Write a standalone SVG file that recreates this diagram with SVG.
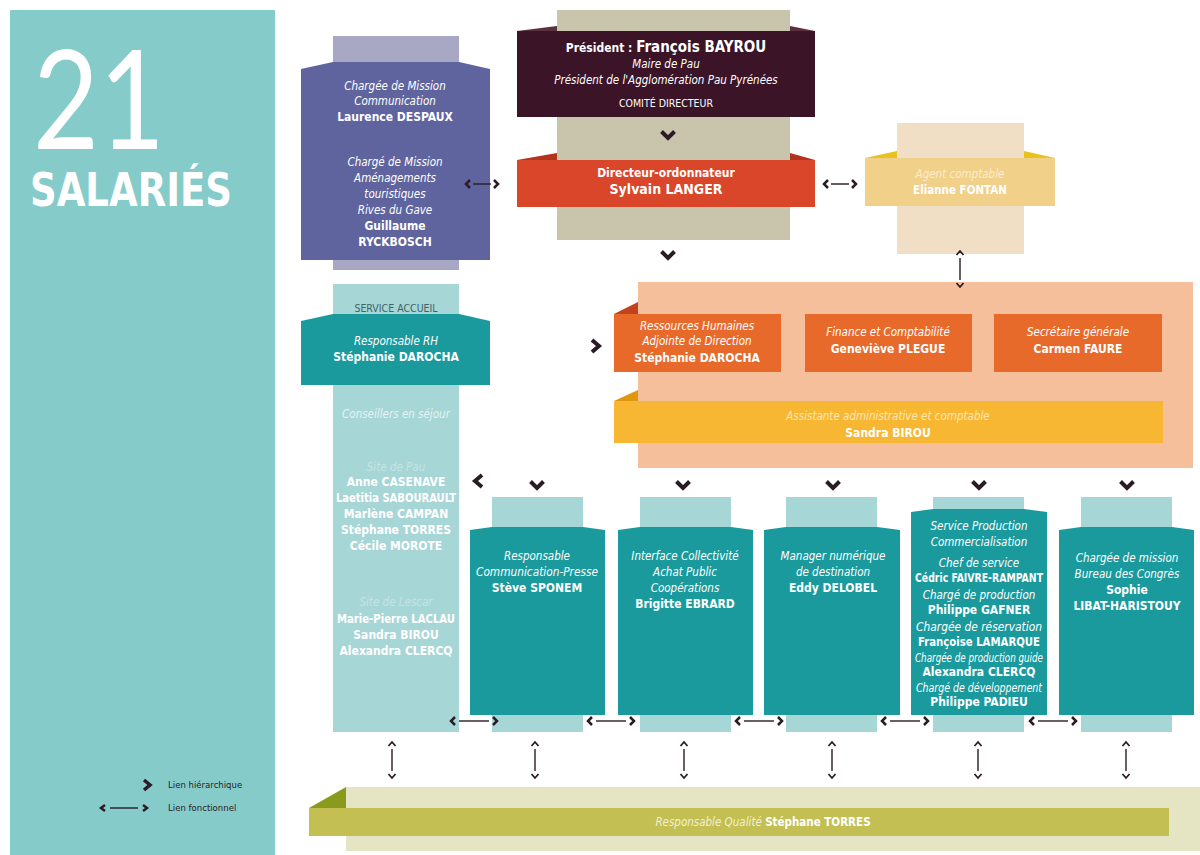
<svg xmlns="http://www.w3.org/2000/svg" width="1200" height="855" viewBox="0 0 1200 855">
<style>
text{font-family:'DejaVu Sans Condensed','Liberation Sans Narrow','Liberation Sans',sans-serif;fill:#fff;text-anchor:middle}
.i{font-style:italic;font-size:11.5px}
.b{font-weight:bold;font-size:12px}
.s{font-size:10.5px}
.chev{fill:none;stroke:#2b1b24;stroke-width:4;stroke-linecap:butt;stroke-linejoin:miter}
.hc{fill:none;stroke:#2b1b24;stroke-width:2.5}
.hl{fill:none;stroke:#2b1b24;stroke-width:1.4}
.vc{fill:none;stroke:#2b1b24;stroke-width:1.8}
</style>
<defs>
<path id="cd" class="chev" d="M-6.5,-4.5 L0,2 L6.5,-4.5"/>
<g id="va"><path class="vc" d="M-3.5,-14 L0,-18 L3.5,-14 M-3.5,14 L0,18 L3.5,14"/><path class="hl" d="M0,-11 V11"/></g>
<g id="ha"><path class="hc" d="M-19,-4 L-23,0 L-19,4 M19,-4 L23,0 L19,4"/><path class="hl" d="M-15,0 H15"/></g>
<g id="has"><path class="hc" d="M-12,-4 L-16,0 L-12,4 M12,-4 L16,0 L12,4"/><path class="hl" d="M-9,0 H9"/></g>
</defs>
<rect width="1200" height="855" fill="#fff"/>

<g id="panel">
<rect x="10" y="10" width="265" height="845" fill="#85cbc9"/>
<text x="99" y="149" textLength="132" lengthAdjust="spacingAndGlyphs" style="font-family:Lato,'Open Sans','Liberation Sans',sans-serif;font-size:138px;font-weight:400">21</text>
<text x="131" y="206" textLength="202" lengthAdjust="spacingAndGlyphs" style="font-size:47px;font-weight:600">SALARIÉS</text>
</g>

<g id="legend">
<path class="chev" style="stroke-width:3.5" d="M144,780 L150,785 L144,790"/>
<text x="168" y="788" style="fill:#2b1b24;font-size:9.5px;text-anchor:start">Lien hiérarchique</text>
<path class="hc" d="M105,805 L101,808 L105,811 M143,805 L147,808 L143,811"/>
<path class="hl" d="M110,808 H138"/>
<text x="168" y="811" style="fill:#2b1b24;font-size:9.5px;text-anchor:start">Lien fonctionnel</text>
</g>

<g id="president">
<rect x="557" y="10" width="233" height="230" fill="#c9c5ad"/>
<rect x="517" y="31" width="298" height="86" fill="#3b1428"/>
<path d="M517,31 L557,26 L557,31 Z M815,31 L790,26 L790,31 Z" fill="#5a3040"/>
<text x="666" y="52" class="b"><tspan style="font-size:12px">Président : </tspan><tspan style="font-size:15px">François BAYROU</tspan></text>
<text x="666" y="68" class="i">Maire de Pau</text>
<text x="666" y="84" class="i">Président de l'Agglomération Pau Pyrénées</text>
<text x="666" y="107" class="s">COMITÉ DIRECTEUR</text>
</g>

<g id="directeur">
<rect x="517" y="160" width="298" height="47" fill="#d9462a"/>
<path d="M517,160 L557,153 L557,160 Z M815,160 L790,153 L790,160 Z" fill="#b3341e"/>
<text x="666" y="177" class="b">Directeur-ordonnateur</text>
<text x="666" y="194" class="b" style="font-size:14px">Sylvain LANGER</text>
</g>

<g id="mission">
<rect x="333" y="36" width="126" height="234" fill="#a9a8c4"/>
<path d="M301,69 L333,62 L459,62 L490,69 L490,260 L301,260 Z" fill="#60649e"/>
<text x="395" y="90" class="i">Chargée de Mission</text>
<text x="395" y="105" class="i">Communication</text>
<text x="395" y="121" class="b">Laurence DESPAUX</text>
<text x="395" y="166" class="i">Chargé de Mission</text>
<text x="395" y="182" class="i">Aménagements</text>
<text x="395" y="198" class="i">touristiques</text>
<text x="395" y="214" class="i">Rives du Gave</text>
<text x="395" y="230" class="b">Guillaume</text>
<text x="395" y="246" class="b">RYCKBOSCH</text>
</g>

<g id="agent">
<rect x="897" y="123" width="127" height="131" fill="#f0dec5"/>
<rect x="865" y="158" width="190" height="48" fill="#f1d08a"/>
<path d="M865,158 L897,151 L897,158 Z M1055,158 L1024,151 L1024,158 Z" fill="#e9c21c"/>
<text x="960" y="178" class="i" style="fill:#fbeccb">Agent comptable</text>
<text x="960" y="194" class="b" style="font-size:11.5px">Elianne FONTAN</text>
</g>

<g id="administration">
<rect x="638" y="282" width="555" height="186" fill="#f5bf9b"/>
<rect x="614" y="314" width="167" height="58" fill="#e86a2b"/>
<path d="M614,314 L638,302 L638,314 Z" fill="#c2421c"/>
<text x="697" y="330" class="i">Ressources Humaines</text>
<text x="697" y="345" class="i">Adjointe de Direction</text>
<text x="697" y="362" class="b">Stéphanie DAROCHA</text>
<rect x="805" y="314" width="167" height="58" fill="#e86a2b"/>
<text x="888" y="336" class="i">Finance et Comptabilité</text>
<text x="888" y="353" class="b">Geneviève PLEGUE</text>
<rect x="994" y="314" width="168" height="58" fill="#e86a2b"/>
<text x="1078" y="336" class="i">Secrétaire générale</text>
<text x="1078" y="353" class="b">Carmen FAURE</text>
<rect x="614" y="401" width="549" height="42" fill="#f7b733"/>
<path d="M614,401 L638,390 L638,401 Z" fill="#e0960e"/>
<text x="888" y="420" class="i" style="fill:#fde6b0">Assistante administrative et comptable</text>
<text x="888" y="437" class="b">Sandra BIROU</text>
</g>

<g id="accueil">
<rect x="333" y="284" width="126" height="448" fill="#a7d6d7"/>
<text x="396" y="312" class="s" style="fill:#3c6467">SERVICE ACCUEIL</text>
<path d="M301,321 L333,314 L459,314 L490,321 L490,385 L301,385 Z" fill="#1a9a9d"/>
<text x="396" y="345" class="i">Responsable RH</text>
<text x="396" y="361" class="b">Stéphanie DAROCHA</text>
<text x="396" y="418" class="i" style="fill:#e3f3f3">Conseillers en séjour</text>
<text x="396" y="471" class="i" style="fill:#c3e4e4">Site de Pau</text>
<text x="396" y="486" class="b">Anne CASENAVE</text>
<text x="396" y="502" class="b" textLength="120" lengthAdjust="spacingAndGlyphs">Laetitia SABOURAULT</text>
<text x="396" y="518" class="b">Marlène CAMPAN</text>
<text x="396" y="534" class="b">Stéphane TORRES</text>
<text x="396" y="550" class="b">Cécile MOROTE</text>
<text x="396" y="606" class="i" style="fill:#c3e4e4">Site de Lescar</text>
<text x="396" y="623" class="b" textLength="118" lengthAdjust="spacingAndGlyphs">Marie-Pierre LACLAU</text>
<text x="396" y="639" class="b">Sandra BIROU</text>
<text x="396" y="655" class="b">Alexandra CLERCQ</text>
</g>

<g id="presse">
<rect x="492" y="497" width="91" height="235" fill="#a7d6d7"/>
<path d="M470,530 L492,527 L583,527 L605,530 L605,715 L470,715 Z" fill="#1a9a9d"/>
<text x="537" y="560" class="i">Responsable</text>
<text x="537" y="576" class="i" textLength="122" lengthAdjust="spacingAndGlyphs">Communication-Presse</text>
<text x="537" y="592" class="b">Stève SPONEM</text>
</g>

<g id="collectivite">
<rect x="640" y="497" width="91" height="235" fill="#a7d6d7"/>
<path d="M618,530 L640,527 L731,527 L753,530 L753,715 L618,715 Z" fill="#1a9a9d"/>
<text x="685" y="560" class="i">Interface Collectivité</text>
<text x="685" y="576" class="i">Achat Public</text>
<text x="685" y="592" class="i">Coopérations</text>
<text x="685" y="608" class="b">Brigitte EBRARD</text>
</g>

<g id="numerique">
<rect x="786" y="497" width="91" height="235" fill="#a7d6d7"/>
<path d="M764,530 L786,527 L877,527 L900,530 L900,715 L764,715 Z" fill="#1a9a9d"/>
<text x="833" y="560" class="i">Manager numérique</text>
<text x="833" y="576" class="i">de destination</text>
<text x="833" y="592" class="b">Eddy DELOBEL</text>
</g>

<g id="production">
<rect x="933" y="497" width="91" height="235" fill="#a7d6d7"/>
<path d="M911,512 L933,509 L1024,509 L1047,512 L1047,715 L911,715 Z" fill="#1a9a9d"/>
<text x="979" y="530" class="i">Service Production</text>
<text x="979" y="546" class="i">Commercialisation</text>
<text x="979" y="567" class="i">Chef de service</text>
<text x="979" y="582" class="b" textLength="128" lengthAdjust="spacingAndGlyphs">Cédric FAIVRE-RAMPANT</text>
<text x="979" y="599" class="i">Chargé de production</text>
<text x="979" y="614" class="b">Philippe GAFNER</text>
<text x="979" y="631" class="i" textLength="126" lengthAdjust="spacingAndGlyphs">Chargée de réservation</text>
<text x="979" y="646" class="b" textLength="122" lengthAdjust="spacingAndGlyphs">Françoise LAMARQUE</text>
<text x="979" y="662" class="i" textLength="128" lengthAdjust="spacingAndGlyphs">Chargée de production guide</text>
<text x="979" y="676" class="b">Alexandra CLERCQ</text>
<text x="979" y="692" class="i" textLength="126" lengthAdjust="spacingAndGlyphs">Chargé de développement</text>
<text x="979" y="706" class="b">Philippe PADIEU</text>
</g>

<g id="congres">
<rect x="1081" y="497" width="91" height="235" fill="#a7d6d7"/>
<path d="M1059,530 L1081,527 L1172,527 L1194,530 L1194,715 L1059,715 Z" fill="#1a9a9d"/>
<text x="1127" y="562" class="i">Chargée de mission</text>
<text x="1127" y="578" class="i">Bureau des Congrès</text>
<text x="1127" y="594" class="b">Sophie</text>
<text x="1127" y="610" class="b">LIBAT-HARISTOUY</text>
</g>

<g id="qualite">
<rect x="346" y="787" width="854" height="64" fill="#e6e5c3"/>
<rect x="309" y="808" width="860" height="28" fill="#c3bf52"/>
<path d="M309,808 L346,787 L346,808 Z" fill="#8a9a1c"/>
<text x="763" y="826" style="font-size:11.5px"><tspan font-style="italic" fill="#f2f0d0">Responsable Qualité </tspan><tspan font-weight="bold">Stéphane TORRES</tspan></text>
</g>

<g id="connectors">
<use href="#cd" x="668" y="136"/>
<use href="#cd" x="668" y="256"/>
<path class="chev" d="M592,340 L599,346 L592,352"/>
<path class="chev" d="M482,475 L475,481 L482,487"/>
<use href="#cd" x="537" y="486"/>
<use href="#cd" x="683" y="486"/>
<use href="#cd" x="833" y="486"/>
<use href="#cd" x="979" y="486"/>
<use href="#cd" x="1127" y="486"/>
<use href="#has" x="482" y="184"/>
<use href="#has" x="840" y="184"/>
<use href="#va" x="960" y="269"/>
<use href="#ha" x="474" y="721"/>
<use href="#ha" x="611" y="721"/>
<use href="#ha" x="759" y="721"/>
<use href="#ha" x="905" y="721"/>
<use href="#ha" x="1053" y="721"/>
<use href="#va" x="392" y="760"/>
<use href="#va" x="535" y="760"/>
<use href="#va" x="684" y="760"/>
<use href="#va" x="832" y="760"/>
<use href="#va" x="978" y="760"/>
<use href="#va" x="1126" y="760"/>
</g>
</svg>
